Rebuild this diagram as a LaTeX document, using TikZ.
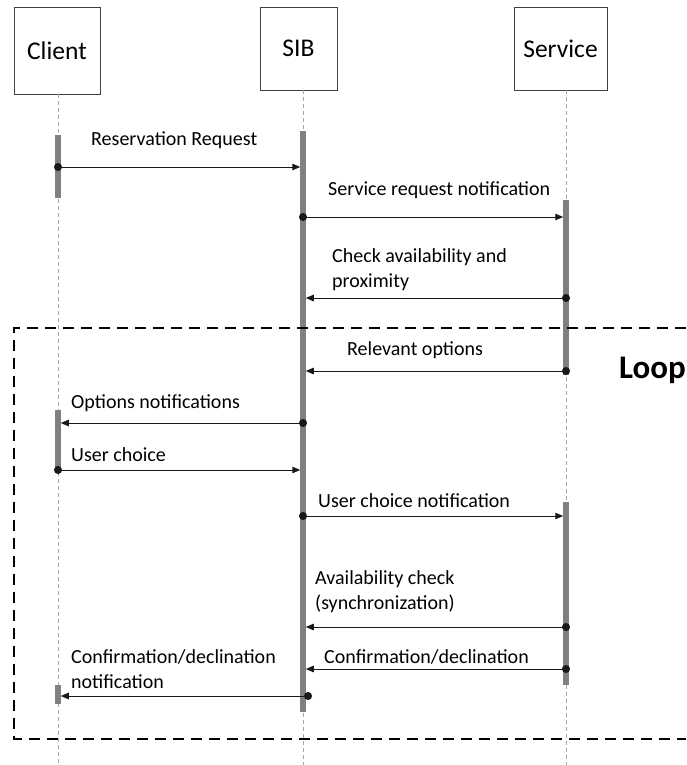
\documentclass[tikz,border=0pt]{standalone}
\usepackage{fontspec}
\setmainfont{Carlito}
\usetikzlibrary{arrows.meta}

\begin{document}
\begin{tikzpicture}[x=1pt, y=-1pt,
    head/.style={draw=black!75, line width=0.8pt, inner sep=0pt,
      minimum height=83pt, font=\fontsize{25.5}{30}\selectfont},
    life/.style={draw=black!35, line width=0.7pt, dash pattern=on 4pt off 3pt},
    act/.style={fill=black!50, minimum width=5.5pt, inner sep=0pt},
    msg/.style={draw=black!90, line width=1pt, shorten <=-4pt, shorten >=2.75pt,
      {Circle[length=8pt]}-{Triangle[length=8pt,width=6.5pt]}},
    lbl/.style={font=\fontsize{20}{25}\selectfont, anchor=base west, inner sep=0pt, align=left},
    loop/.style={draw=black, line width=2.6pt, dash pattern=on 11pt off 7pt}]
  \useasboundingbox (0,0) rectangle (686,765);

  % participants
  \node[head, minimum width=86pt, minimum height=87pt] (client) at (57,50.5) {Client};
  \node[head, minimum width=77pt] (sib) at (298.5,48.5) {SIB};
  \node[head, minimum width=93pt] (service) at (560.5,48.5) {Service};

  \coordinate (clientL) at (58,765);
  \coordinate (sibL) at (303,765);
  \coordinate (serviceL) at (566,765);
  \draw[life] (clientL |- client.south) -- (clientL);
  \draw[life] (sibL |- sib.south) -- (sibL);
  \draw[life] (serviceL |- service.south) -- (serviceL);

  % activation bars
  \node[act, minimum height=63pt] (client1) at (58,166.5) {};
  \node[act, minimum height=63pt] (client2) at (58,441.5) {};
  \node[act, minimum height=19pt] (client3) at (58,694.5) {};
  \node[act, minimum height=581pt] (sib1) at (303,421.5) {};
  \node[act, minimum height=175pt] (service1) at (566,287.5) {};
  \node[act, minimum height=183pt] (service2) at (566,593.5) {};

  % loop frame
  \draw[loop] (686,328) -- (14,328) -- (14,739) -- (686,739);
  \node[font=\fontsize{33}{36}\selectfont\bfseries, anchor=base east, inner sep=0pt]
    (looplbl) at (686,378) {Loop};

  % messages
  \draw[msg] (client1 |- 0,167) -- (sib1 |- 0,167);
  \node[lbl] (m1) at (91,145) {Reservation Request};

  \draw[msg] (sib1 |- 0,217) -- (service1 |- 0,217);
  \node[lbl] (m2) at (328,195) {Service request notification};

  \draw[msg] (service1 |- 0,298) -- (sib1 |- 0,298);
  \node[lbl] (m3) at (332,287) {Check availability and\\proximity};

  \draw[msg] (service1 |- 0,371) -- (sib1 |- 0,371);
  \node[lbl] (m4) at (347,355) {Relevant options};

  \draw[msg] (sib1 |- 0,423) -- (client2 |- 0,423);
  \node[lbl] (m5) at (71,408) {Options notifications};

  \draw[msg] (client2 |- 0,470) -- (sib1 |- 0,470);
  \node[lbl] (m6) at (71,461) {User choice};

  \draw[msg] (sib1 |- 0,516) -- (service2 |- 0,516);
  \node[lbl] (m7) at (318,507) {User choice notification};

  \draw[msg] (service2 |- 0,627) -- (sib1 |- 0,627);
  \node[lbl] (m8) at (315,609) {Availability check\\(synchronization)};

  \draw[msg] (service2 |- 0,669) -- (sib1 |- 0,669);
  \node[lbl] (m9) at (324,663) {Confirmation/declination};

  \draw[msg, shorten <=-9pt] (sib1 |- 0,696) -- (client3 |- 0,696);
  \node[lbl] (m10) at (71,688) {Confirmation/declination\\notification};
\end{tikzpicture}
\end{document}
